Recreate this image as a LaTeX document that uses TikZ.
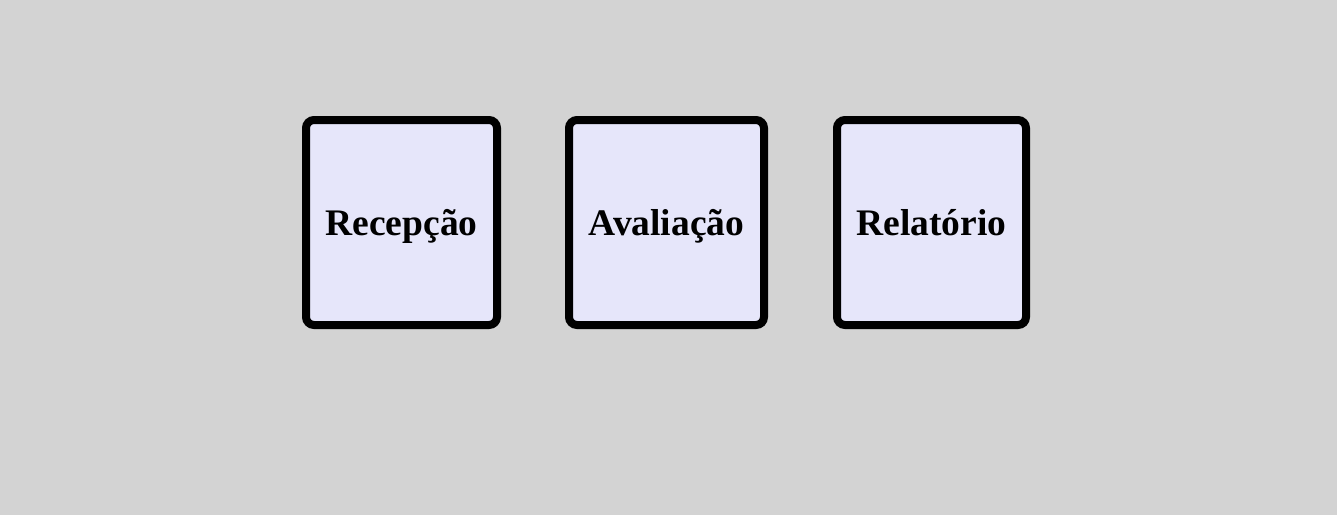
\documentclass[tikz,border=0pt]{standalone}
\usepackage{fontspec}
\setmainfont{Liberation Serif}
\definecolor{bg}{HTML}{D3D3D3}
\definecolor{lav}{HTML}{E6E6FA}
\begin{document}
\begin{tikzpicture}[x=1pt,y=-1pt,
  card/.style={draw=black,line width=8pt,fill=lav,rounded corners=8pt},
  lbl/.style={anchor=base,inner sep=0pt,font=\fontsize{37.5}{41}\selectfont\bfseries}]
\fill[bg] (0,0) rectangle (1337,515);
\useasboundingbox (0,0) rectangle (1337,515);
\draw[card] (306,120) rectangle (497,325);
\draw[card] (569,120) rectangle (764,325);
\draw[card] (837,120) rectangle (1026,325);
\node[lbl] (a) at (401.5,235.5) {Recepção};
\node[lbl] (b) at (666.5,235.5) {Avaliação};
\node[lbl] (c) at (931.5,235.5) {Relatório};
\end{tikzpicture}
\end{document}
